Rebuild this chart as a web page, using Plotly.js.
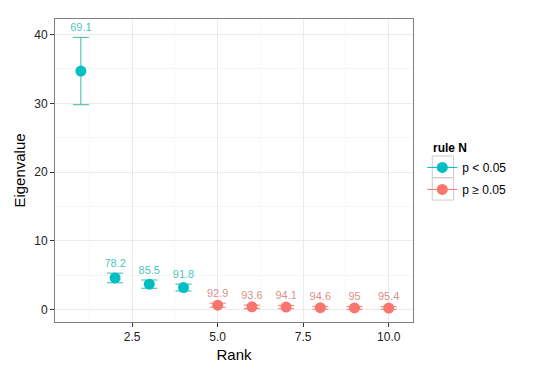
<!DOCTYPE html>
<html>
<head>
<meta charset="utf-8">
<script src="https://cdn.plot.ly/plotly-3.0.1.min.js"></script>
<style>html,body{margin:0;padding:0;background:#fff;}#chart{width:540px;height:373px;}</style>
</head>
<body>
<div id="chart"></div>
<script>
// Data
const rankSig = [1, 2, 3, 4];
const eigenSig = [34.7, 4.6, 3.7, 3.2];
const errSig = [4.9, 0.7, 0.6, 0.5];
const labelSig = ["69.1", "78.2", "85.5", "91.8"];

const rankNon = [5, 6, 7, 8, 9, 10];
const eigenNon = [0.63, 0.4, 0.36, 0.27, 0.24, 0.22];
const errNon = [0.3, 0.25, 0.25, 0.2, 0.2, 0.2];
const labelNon = ["92.9", "93.6", "94.1", "94.6", "95", "95.4"];

const xTickVals = [2.5, 5.0, 7.5, 10.0];
const xTickText = ["2.5", "5.0", "7.5", "10.0"];
const yTickVals = [0, 10, 20, 30, 40];
const legendNames = ["p < 0.05", "p \u2265 0.05"];
const legendTitle = "rule N";

const teal = "#00BFC4", salmon = "#F8766D";
const font = "Liberation Sans, Arial, sans-serif";

function upper(v, e) { return v.map((d, i) => d + e[i]); }

const traces = [
  {x: rankSig, y: eigenSig, type: "scatter", mode: "markers", showlegend: false,
   marker: {color: teal, size: 11},
   error_y: {type: "data", array: errSig, visible: true, color: "#3db5a6", thickness: 1, width: 8}},
  {x: rankNon, y: eigenNon, type: "scatter", mode: "markers", showlegend: false,
   marker: {color: salmon, size: 11},
   error_y: {type: "data", array: errNon, visible: true, color: salmon, thickness: 1, width: 8}},
  {x: rankSig, y: upper(eigenSig, errSig), type: "scatter", mode: "markers+text", text: labelSig,
   textposition: "top center", showlegend: false, hoverinfo: "skip",
   marker: {size: 4, opacity: 0},
   textfont: {family: font, size: 11, color: "rgba(0,175,165,0.75)"}},
  {x: rankNon, y: upper(eigenNon, errNon), type: "scatter", mode: "markers+text", text: labelNon,
   textposition: "top center", showlegend: false, hoverinfo: "skip",
   marker: {size: 4, opacity: 0},
   textfont: {family: font, size: 11, color: "rgba(215,110,105,0.8)"}},
  {x: [null], y: [null], type: "scatter", mode: "lines+markers", name: legendNames[0], legendgroup: "a",
   line: {color: teal, width: 1}, marker: {color: teal, size: 11}},
  {x: [null], y: [null], type: "scatter", mode: "lines+markers", name: legendNames[1], legendgroup: "b",
   line: {color: salmon, width: 1}, marker: {color: salmon, size: 11}}
];

function px2x(p) { return (p - 54.5) / 358.2; }
function px2y(p) { return (321.7 - p) / 302.4; }
const keyBox = (y0, y1) => ({type: "rect", xref: "paper", yref: "paper",
  x0: px2x(432), x1: px2x(453.3), y0: px2y(y0), y1: px2y(y1),
  line: {color: "#cccccc", width: 1}, fillcolor: "rgba(0,0,0,0)", layer: "below"});

const layout = {
  width: 540, height: 373,
  margin: {l: 54.5, r: 127.3, t: 19.3, b: 51.3, pad: 0},
  paper_bgcolor: "#ffffff", plot_bgcolor: "#ffffff",
  font: {family: font, color: "#000"},
  xaxis: {
    range: [0.243, 10.71], tickvals: xTickVals, ticktext: xTickText,
    ticks: "outside", ticklen: 4, tickcolor: "#333", tickwidth: 1,
    tickfont: {size: 12, color: "#222"},
    showgrid: true, gridcolor: "#ebebeb", gridwidth: 1,
    minor: {tickvals: [1.25, 3.75, 6.25, 8.75], showgrid: true, gridcolor: "#f7f7f7", ticks: ""},
    zeroline: false, showline: true, mirror: true, linecolor: "#7f7f7f", linewidth: 1,
    title: {text: "Rank", font: {size: 15, color: "#000"}, standoff: 6}
  },
  yaxis: {
    range: [-1.81, 42.27], tickvals: yTickVals,
    ticks: "outside", ticklen: 4, tickcolor: "#333", tickwidth: 1,
    tickfont: {size: 12, color: "#222"},
    showgrid: true, gridcolor: "#ebebeb", gridwidth: 1,
    minor: {tickvals: [5, 15, 25, 35], showgrid: true, gridcolor: "#f7f7f7", ticks: ""},
    zeroline: false, showline: true, mirror: true, linecolor: "#7f7f7f", linewidth: 1,
    title: {text: "Eigenvalue", font: {size: 15, color: "#000"}, standoff: 4}
  },
  legend: {
    x: px2x(422), y: px2y(153), xanchor: "left", yanchor: "top",
    font: {size: 12}, itemwidth: 30, tracegroupgap: 3,
    bgcolor: "rgba(0,0,0,0)"
  },
  annotations: [{text: "<b>" + legendTitle + "</b>", xref: "paper", yref: "paper",
    x: px2x(431), y: px2y(148), xanchor: "left", yanchor: "middle", showarrow: false,
    font: {size: 12, color: "#000"}}],
  shapes: [keyBox(156, 177.7), keyBox(177.7, 200)],
  showlegend: true
};

Plotly.newPlot("chart", traces, layout, {staticPlot: true, displayModeBar: false});
</script>
</body>
</html>
